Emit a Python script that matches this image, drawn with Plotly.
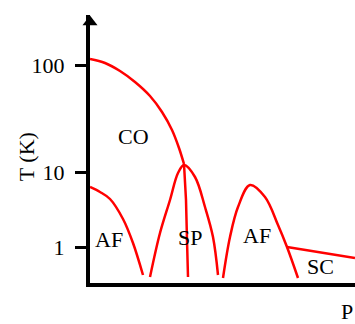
import plotly.graph_objects as go

# Schematic phase diagram (arbitrary pressure units on x, schematic temperature height on y)
co_x = [0, 15, 30, 45, 60, 72, 82, 89, 94]
co_y = [224, 220, 212, 201, 187, 171, 153, 135, 119]
cosp_x = [94, 96, 97, 98]
cosp_y = [119, 83, 43, 6]
af1_x = [0, 10, 20, 33, 43, 53]
af1_y = [96, 91, 84, 64, 40, 8]
sp_x = [60, 70, 80, 88, 94, 105, 115, 123, 128]
sp_y = [6, 50, 83, 110, 118, 106, 76, 46, 8]
af2_x = [133, 140, 148, 160, 175, 188, 197, 208]
af2_y = [5, 46, 76, 98, 86, 58, 36, 5]
sc_x = [197, 265]
sc_y = [36, 25]

tick_vals = [36, 111, 218]
tick_text = ["1", "10", "100"]

labels = ["CO", "AF", "SP", "AF", "SC"]
label_x = [43, 19, 100, 167, 230]
label_y = [147, 44, 46, 48, 17]

FONT = "Liberation Serif, Times New Roman, serif"
RED = "#ff0000"

fig = go.Figure()
for xs, ys, shape in [(co_x, co_y, "spline"), (cosp_x, cosp_y, "linear"),
                      (af1_x, af1_y, "spline"), (sp_x, sp_y, "spline"),
                      (af2_x, af2_y, "spline"), (sc_x, sc_y, "linear")]:
    fig.add_trace(go.Scatter(x=xs, y=ys, mode="lines",
                             line=dict(color=RED, width=2.5, shape=shape),
                             showlegend=False, hoverinfo="skip"))

# arrow head on the y axis
fig.add_trace(go.Scatter(x=[0], y=[261], mode="markers",
                         marker=dict(symbol="triangle-up", size=13, color="black"),
                         cliponaxis=False, showlegend=False, hoverinfo="skip"))

for t, x, y in zip(labels, label_x, label_y):
    fig.add_annotation(x=x, y=y, text=t, showarrow=False,
                       font=dict(family=FONT, size=22, color="black"))

fig.add_annotation(x=-0.241, y=0.47, xref="paper", yref="paper", text="T (K)",
                   xanchor="center", yanchor="middle",
                   textangle=-90, showarrow=False,
                   font=dict(family=FONT, size=22, color="black"))
fig.add_annotation(x=1.0, y=-0.108, xref="paper", yref="paper", text="P",
                   xanchor="right", yanchor="middle", showarrow=False,
                   font=dict(family=FONT, size=22, color="black"))

fig.update_layout(
    width=355, height=324,
    margin=dict(l=90, r=0, t=15, b=41),
    paper_bgcolor="white", plot_bgcolor="white",
    xaxis=dict(range=[0, 265], showline=True, linewidth=4, linecolor="black",
               showgrid=False, zeroline=False, showticklabels=False, ticks=""),
    yaxis=dict(range=[0, 268], showline=True, linewidth=4, linecolor="black",
               showgrid=False, zeroline=False, tickmode="array",
               tickvals=tick_vals, ticktext=tick_text, ticks="outside",
               ticklen=11, tickwidth=3, tickcolor="black", ticklabelstandoff=6,
               tickfont=dict(family=FONT, size=22, color="black")),
)

fig.write_html("out.html")
